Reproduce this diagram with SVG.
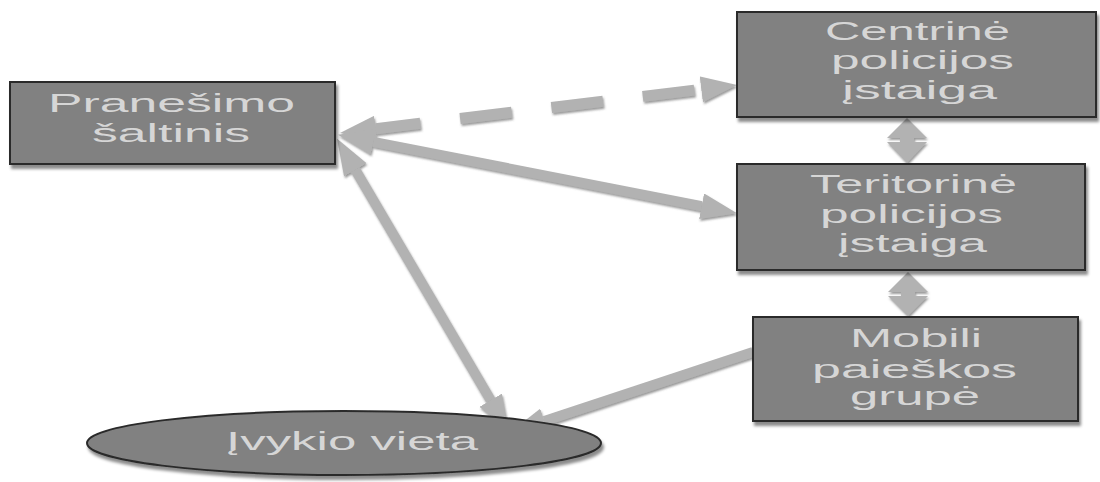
<svg xmlns="http://www.w3.org/2000/svg" width="1100" height="482" viewBox="0 0 1100 482">
<style>
.box{fill:#818181;stroke:#2b2b2b;stroke-width:2}
.lbl{font-family:"Liberation Sans",Arial,sans-serif;font-size:26px;fill:#d6d6d6}
.con{fill:none;stroke:#b2b2b2;stroke-width:10}
.dash{stroke-dasharray:52 40;stroke-dashoffset:7;stroke-width:11}
.dbl{fill:#b2b2b2}
</style>
<defs>
<filter id="sh" x="-10%" y="-10%" width="130%" height="140%">
<feDropShadow dx="2" dy="4" stdDeviation="1.5" flood-color="#000" flood-opacity="0.45"/>
</filter>
<filter id="ash" x="-10%" y="-10%" width="130%" height="130%">
<feDropShadow dx="1" dy="2" stdDeviation="1" flood-color="#555" flood-opacity="0.6"/>
</filter>
<marker id="ah" viewBox="0 0 36 26" refX="0" refY="13" markerWidth="36" markerHeight="26" markerUnits="userSpaceOnUse" orient="auto-start-reverse">
<path d="M0,0 L36,13 L0,26 z" fill="#b2b2b2"/>
</marker>
</defs>
<rect width="1100" height="482" fill="#ffffff"/>

<g id="connectors" filter="url(#ash)">
<path class="con dash" d="M375.7,128.7 L701.3,89.3" marker-start="url(#ah)" marker-end="url(#ah)"/>
<path class="con" d="M373.4,141.8 L701.6,206.2" marker-start="url(#ah)" marker-end="url(#ah)"/>
<path class="con" d="M355.3,169.8 L490.7,400.2" marker-start="url(#ah)" marker-end="url(#ah)"/>
<path class="con" d="M753,352 L544.3,421" marker-end="url(#ah)"/>
<polygon class="dbl" points="907,118 927,138 914,138 914,142 927,142 907,163 887,142 900,142 900,138 887,138"/>
<polygon class="dbl" points="908,272 928,292 915,292 915,296 928,296 908,316 888,296 901,296 901,292 888,292"/>
</g>

<g id="node-pranesimo">
<rect class="box" x="10" y="82" width="325" height="82" filter="url(#sh)"/>
<text class="lbl" x="48" y="112" textLength="247" lengthAdjust="spacingAndGlyphs">Pranešimo</text>
<text class="lbl" x="92" y="142" textLength="158" lengthAdjust="spacingAndGlyphs">šaltinis</text>
</g>

<g id="node-centrine">
<rect class="box" x="737" y="12" width="359" height="105" filter="url(#sh)"/>
<text class="lbl" x="825" y="40" textLength="185" lengthAdjust="spacingAndGlyphs">Centrinė</text>
<text class="lbl" x="831" y="69" textLength="183" lengthAdjust="spacingAndGlyphs">policijos</text>
<text class="lbl" x="842" y="99" textLength="155" lengthAdjust="spacingAndGlyphs">įstaiga</text>
</g>

<g id="node-teritorine">
<rect class="box" x="737" y="164" width="348" height="106" filter="url(#sh)"/>
<text class="lbl" x="810" y="193" textLength="207" lengthAdjust="spacingAndGlyphs">Teritorinė</text>
<text class="lbl" x="820" y="223" textLength="183" lengthAdjust="spacingAndGlyphs">policijos</text>
<text class="lbl" x="838" y="252" textLength="149" lengthAdjust="spacingAndGlyphs">įstaiga</text>
</g>

<g id="node-mobili">
<rect class="box" x="753" y="317" width="325" height="104" filter="url(#sh)"/>
<text class="lbl" x="850" y="347" textLength="132" lengthAdjust="spacingAndGlyphs">Mobili</text>
<text class="lbl" x="812" y="378" textLength="205" lengthAdjust="spacingAndGlyphs">paieškos</text>
<text class="lbl" x="850" y="405" textLength="130" lengthAdjust="spacingAndGlyphs">grupė</text>
</g>

<g id="node-ivykio">
<ellipse class="box" cx="344" cy="443" rx="257" ry="32" filter="url(#sh)"/>
<text class="lbl" x="226" y="450" textLength="252" lengthAdjust="spacingAndGlyphs">Įvykio vieta</text>
</g>
</svg>
